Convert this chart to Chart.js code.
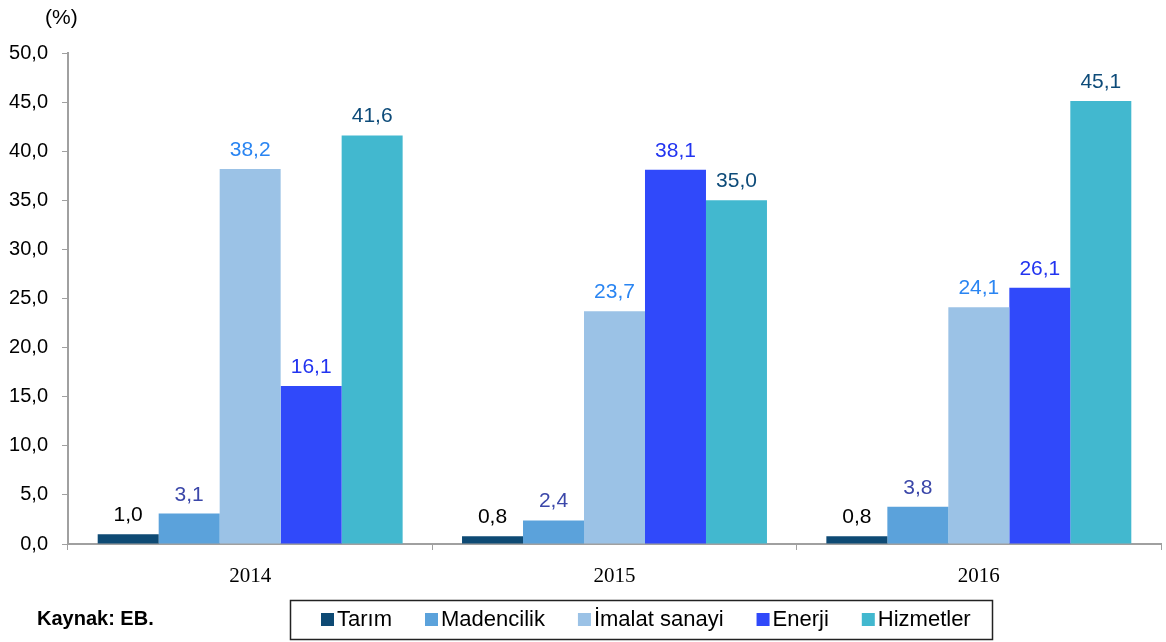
<!DOCTYPE html>
<html>
<head>
<meta charset="utf-8">
<script src="https://cdn.jsdelivr.net/npm/chart.js@4.4.1/dist/chart.umd.min.js"></script>
<style>
  body { margin: 0; background: #fff; }
  canvas { display: block; }
</style>
</head>
<body>
<canvas id="chart" width="1166" height="642"></canvas>
<script>
// data
const years = ['2014', '2015', '2016'];
const tarim = [1.0, 0.8, 0.8];
const madencilik = [3.1, 2.4, 3.8];
const imalat = [38.2, 23.7, 24.1];
const enerji = [16.1, 38.1, 26.1];
const hizmetler = [41.6, 35.0, 45.1];

const names = ['Tarım', 'Madencilik', 'İmalat sanayi', 'Enerji', 'Hizmetler'];
const barColors = ['#0E4A74', '#5BA2DB', '#9BC2E6', '#3049FA', '#42B8CF'];
const labelColors = ['#000000', '#3B47A9', '#2A85F2', '#2234F0', '#0D4B79'];

const fmt = v => v.toFixed(1).replace('.', ',');

// value labels above bars
const valueLabels = {
  id: 'valueLabels',
  afterDatasetsDraw(chart) {
    const ctx = chart.ctx;
    ctx.save();
    ctx.font = '21px "Liberation Sans", Arial, sans-serif';
    ctx.textAlign = 'center';
    ctx.textBaseline = 'alphabetic';
    chart.data.datasets.forEach((ds, i) => {
      chart.getDatasetMeta(i).data.forEach((bar, j) => {
        ctx.fillStyle = labelColors[i];
        ctx.fillText(fmt(ds.data[j]), bar.x, bar.y - 13);
      });
    });
    ctx.restore();
  }
};

// legend box, source note and unit
const extras = {
  id: 'extras',
  afterDraw(chart) {
    const ctx = chart.ctx;
    ctx.save();
    ctx.fillStyle = '#000';
    ctx.font = '21px "Liberation Sans", Arial, sans-serif';
    ctx.textBaseline = 'middle';
    ctx.textAlign = 'left';
    ctx.fillText('(%)', 45, 18);

    ctx.font = 'bold 20px "Liberation Sans", Arial, sans-serif';
    ctx.fillText('Kaynak: EB.', 37, 619);

    // legend
    ctx.strokeStyle = '#222';
    ctx.lineWidth = 1.5;
    ctx.strokeRect(290.5, 600.5, 702, 39);
    ctx.font = '22px "Liberation Sans", Arial, sans-serif';
    let x = 321;
    names.forEach((n, i) => {
      ctx.fillStyle = barColors[i];
      ctx.fillRect(x, 613, 13, 13);
      ctx.fillStyle = '#000';
      ctx.fillText(n, x + 16, 620);
      x += 16 + ctx.measureText(n).width + 33;
    });
    ctx.restore();
  }
};

new Chart(document.querySelector('#chart'), {
  type: 'bar',
  data: {
    labels: years,
    datasets: [
      { label: names[0], data: tarim, backgroundColor: barColors[0] },
      { label: names[1], data: madencilik, backgroundColor: barColors[1] },
      { label: names[2], data: imalat, backgroundColor: barColors[2] },
      { label: names[3], data: enerji, backgroundColor: barColors[3] },
      { label: names[4], data: hizmetler, backgroundColor: barColors[4] }
    ]
  },
  options: {
    responsive: false,
    animation: false,
    layout: { padding: { top: 53, right: 5, bottom: 0, left: 0 } },
    datasets: { bar: { categoryPercentage: 0.837, barPercentage: 1.0 } },
    plugins: { legend: { display: false }, tooltip: { enabled: false } },
    scales: {
      x: {
        grid: { drawOnChartArea: false, tickLength: 6, color: '#A0A0A0', offset: true },
        border: { color: '#A0A0A0', width: 2 },
        ticks: {
          color: '#000',
          padding: 14,
          font: { family: '"Liberation Serif", "Times New Roman", serif', size: 21 }
        },
        afterFit(scale) { scale.height = 98; }
      },
      y: {
        min: 0,
        max: 50,
        grid: { drawOnChartArea: false, tickLength: 6, color: '#A0A0A0' },
        border: { color: '#A0A0A0', width: 2 },
        ticks: {
          stepSize: 5,
          color: '#000',
          padding: 14,
          font: { family: '"Liberation Sans", Arial, sans-serif', size: 20 },
          callback: v => fmt(v)
        },
        afterFit(scale) { scale.width = 68; }
      }
    }
  },
  plugins: [valueLabels, extras]
});
</script>
</body>
</html>
